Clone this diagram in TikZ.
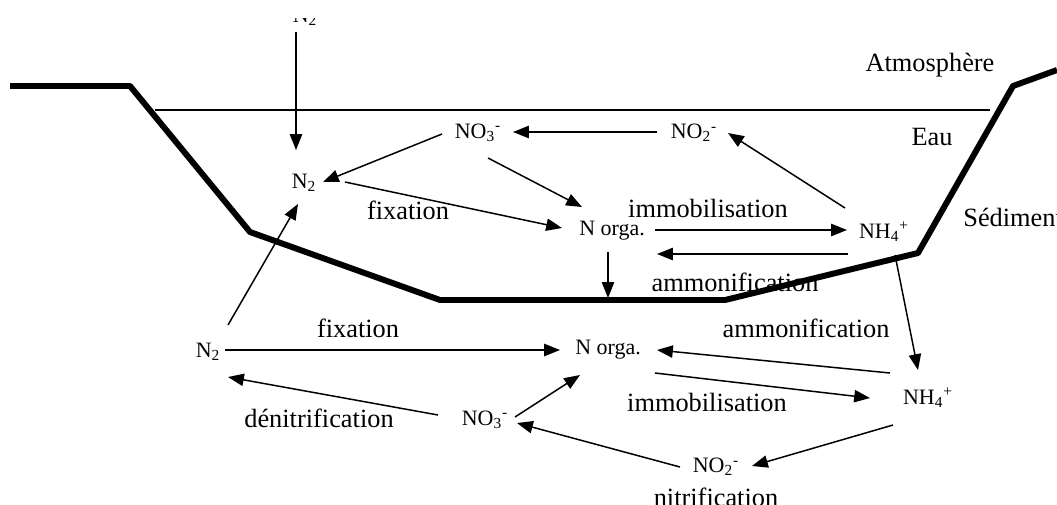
\documentclass[tikz,border=0pt]{standalone}
\usepackage{fontspec}
\setmainfont{Liberation Serif}
\usetikzlibrary{arrows.meta,calc}
\begin{document}
\begin{tikzpicture}[x=0.02cm,y=-0.02cm,
  chem/.style={inner sep=0pt,font=\fontsize{12.5}{14}\selectfont},
  lbl/.style={inner sep=0pt,font=\fontsize{15}{18}\selectfont},
  flow/.style={line width=0.85pt,-{Triangle[length=9pt,width=7pt]}},
  ground/.style={line width=3.4pt,line join=round},
  surface/.style={line width=0.75pt}]
\useasboundingbox (0,0) rectangle (1057,504);
\clip (0,0) rectangle (1057,504);

% compartment labels
\node[lbl] (atm) at (930,65) {Atmosphère};
\node[lbl] (eau) at (932,137) {Eau};
\node[lbl,anchor=west] (sed) at (963,217) {Sédiment};

% process labels
\node[lbl] (fixu) at (408,210) {fixation};
\node[lbl] (immu) at (708,208) {immobilisation};
\node[lbl] (ammu) at (735,282) {ammonification};
\node[lbl] (fixl) at (358,328) {fixation};
\node[lbl] (amml) at (806,328) {ammonification};
\node[lbl] (imml) at (707,402) {immobilisation};
\node[lbl] (denit) at (319,418) {dénitrification};
\node[lbl] (nitr) at (716,497) {nitrification};

% atmospheric N2 (only its lower edge shows)
\begin{scope}
  \clip (0,18) rectangle (1057,40);
  \node[chem,anchor=base] (n2top) at (305,22) {N\textsubscript{2}};
\end{scope}

% species in the water column
\node[chem] (n2u) at (304,183) {N\textsubscript{2}};
\node[chem] (no3u) at (478,133) {NO\textsubscript{3}\textsuperscript{-}};
\node[chem] (no2u) at (694,133) {NO\textsubscript{2}\textsuperscript{-}};
\node[chem] (norgu) at (612,231) {N orga.};
\node[chem] (nh4u) at (884,232) {NH\textsubscript{4}\textsuperscript{+}};

% species in the sediment
\node[chem] (n2l) at (208,352) {N\textsubscript{2}};
\node[chem] (norgl) at (608,350) {N orga.};
\node[chem] (nh4l) at (928,398) {NH\textsubscript{4}\textsuperscript{+}};
\node[chem] (no3l) at (485,420) {NO\textsubscript{3}\textsuperscript{-}};
\node[chem] (no2l) at (716,467) {NO\textsubscript{2}\textsuperscript{-}};

% water surface
\draw[surface] (155,110) -- (990,110);

% fluxes in the water column
\draw[flow] ($(n2top.base)+(-9,10)$) -- ($(n2u)+(-8,-33)$);
\draw[flow] ($(no3u)+(-36,1)$) -- ($(n2u)+(19,-1)$);
\draw[flow] ($(n2u)+(41,-1)$) -- ($(norgu)+(-50,-3)$);
\draw[flow] ($(no3u)+(10,25)$) -- ($(norgu)+(-30,-24)$);
\draw[flow] ($(no2u)+(-37,-1)$) -- ($(no3u)+(35,-1)$);
\draw[flow] ($(nh4u)+(-39,-24)$) -- ($(no2u)+(34,0)$);
\draw[flow] ($(norgu)+(43,-1)$) -- ($(nh4u)+(-37,-2)$);
\draw[flow] ($(nh4u)+(-36,22)$) -- ($(norgu)+(45,23)$);
\coordinate (bed) at (608,298);
\draw[flow] ($(norgu)+(-4,21)$) -- (bed);

% fluxes in the sediment
\draw[flow] ($(n2l)+(20,-27)$) -- ($(n2u)+(-6,21)$);
\draw[flow] ($(n2l)+(17,-2)$) -- ($(norgl)+(-48,0)$);
\draw[flow] ($(no3l)+(-47,-5)$) -- ($(n2l)+(20,25)$);
\draw[flow] ($(no3l)+(30,-3)$) -- ($(norgl)+(-28,25)$);
\draw[flow] ($(no2l)+(-36,0)$) -- ($(no3l)+(32,3)$);
\draw[flow] ($(nh4l)+(-35,27)$) -- ($(no2l)+(36,-1)$);
\draw[flow] ($(norgl)+(47,23)$) -- ($(nh4l)+(-58,0)$);
\draw[flow] ($(nh4l)+(-38,-25)$) -- ($(norgl)+(49,0)$);
\draw[flow] ($(nh4u)+(11,23)$) -- ($(nh4l)+(-10,-28)$);

% lake bed profile
\draw[ground] (10,86) -- (130,86) -- (250,232) -- (440,300) -- (725,300)
  -- (918,253) -- (1013,86) -- (1057,70);
\end{tikzpicture}
\end{document}
